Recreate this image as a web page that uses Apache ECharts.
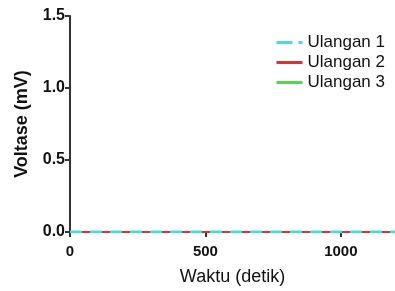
<!DOCTYPE html>
<html>
<head>
<meta charset="utf-8">
<script src="https://cdn.jsdelivr.net/npm/echarts@6/dist/echarts.min.js"></script>
<style>
  html, body { margin: 0; padding: 0; background: #fff; }
  #chart { width: 395px; height: 291px; }
</style>
</head>
<body>
<div id="chart"></div>
<script>
// time in seconds, voltage in mV
var waktu = [0, 100, 200, 300, 400, 500, 600, 700, 800, 900, 1000, 1100, 1200]
var ulangan1 = [0, 0, 0, 0, 0, 0, 0, 0, 0, 0, 0, 0, 0]
var ulangan2 = [0, 0, 0, 0, 0, 0, 0, 0, 0, 0, 0, 0, 0]
var ulangan3 = [0, 0, 0, 0, 0, 0, 0, 0, 0, 0, 0, 0, 0]

function pairs(xs, ys) {
  return xs.map(function(x, i) { return [x, ys[i]] })
}

var chart = echarts.init(document.getElementById('chart'))
var font = 'Liberation Sans, Arial, sans-serif'
chart.setOption({
  animation: false,
  grid: { left: 70, top: 16, right: 0, bottom: 59 },
  legend: {
    right: 5,
    top: 29,
    orient: 'vertical',
    itemGap: 3,
    itemWidth: 26,
    itemHeight: 3,
    textStyle: { fontFamily: font, fontSize: 17, color: '#111' },
    data: [
      { name: 'Ulangan 1', icon: 'path://M0,0h16v3h-16z M22,0h4v3h-4z' },
      { name: 'Ulangan 2', icon: 'rect' },
      { name: 'Ulangan 3', icon: 'rect' }
    ]
  },
  xAxis: {
    type: 'value',
    min: 0,
    max: 1200,
    interval: 500,
    name: 'Waktu (detik)',
    nameLocation: 'middle',
    nameGap: 36,
    nameTextStyle: { fontFamily: font, fontSize: 18, color: '#111' },
    axisLine: { show: true, lineStyle: { color: '#333', width: 2 } },
    axisTick: { show: true, length: 5, lineStyle: { color: '#333', width: 2 } },
    axisLabel: {
      fontFamily: font, fontSize: 15, fontWeight: 'bold', color: '#111', margin: 12, showMaxLabel: false,
      formatter: function(v) { return String(v) }
    },
    splitLine: { show: false }
  },
  yAxis: {
    type: 'value',
    min: 0,
    max: 1.5,
    interval: 0.5,
    name: 'Voltase (mV)',
    nameLocation: 'middle',
    nameGap: 39,
    nameTextStyle: { fontFamily: font, fontSize: 18, fontWeight: 'bold', color: '#111' },
    axisLine: { show: true, lineStyle: { color: '#333', width: 2 } },
    axisTick: { show: true, length: 5, lineStyle: { color: '#333', width: 2 } },
    axisLabel: {
      fontFamily: font, fontSize: 16, fontWeight: 'bold', color: '#111', margin: 5,
      formatter: function(v) { return v.toFixed(1) }
    },
    splitLine: { show: false }
  },
  series: [
    {
      name: 'Ulangan 1',
      type: 'line',
      data: pairs(waktu, ulangan1),
      symbol: 'none',
      z: 4,
      color: '#4dd9e3',
      lineStyle: { width: 3, type: [12, 8] }
    },
    {
      name: 'Ulangan 2',
      type: 'line',
      data: pairs(waktu, ulangan2),
      symbol: 'none',
      z: 3,
      color: '#e03030',
      lineStyle: { width: 2 }
    },
    {
      name: 'Ulangan 3',
      type: 'line',
      data: pairs(waktu, ulangan3),
      symbol: 'none',
      z: 2,
      color: '#4cd94c',
      lineStyle: { width: 2 }
    }
  ]
})
</script>
</body>
</html>
